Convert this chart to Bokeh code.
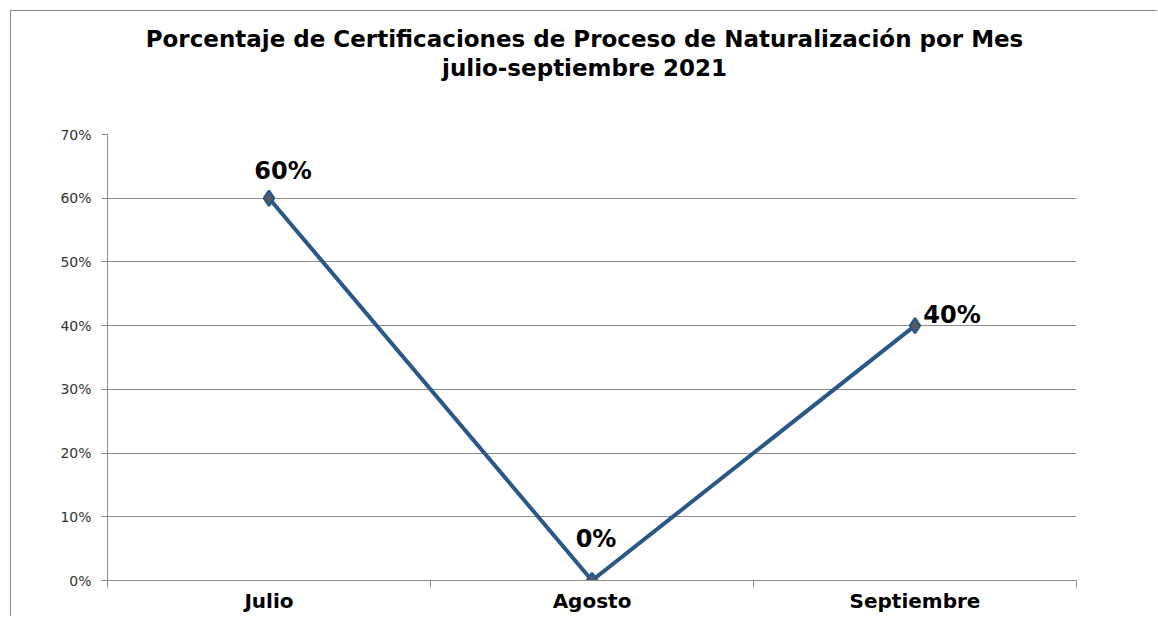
from bokeh.plotting import figure
from bokeh.layouts import column
from bokeh.models import (ColumnDataSource, Range1d, FixedTicker,
                          NumeralTickFormatter, LabelSet, Div)
from bokeh.core.properties import value
from bokeh.embed import file_html
from bokeh.resources import INLINE

# ---- data ----
meses = ["Julio", "Agosto", "Septiembre"]
porcentajes = [0.60, 0.00, 0.40]
etiquetas = ["60%", "0%", "40%"]
y_ticks = [0.0, 0.1, 0.2, 0.3, 0.4, 0.5, 0.6, 0.7]
titulo = "Porcentaje de Certificaciones de Proceso de Naturalización por Mes"
subtitulo = "julio-septiembre 2021"

# ---- styles (label offsets in screen pixels) ----
label_dx = [14, 4, 37]
label_dy = [19, 34, 3]

FONT = "DejaVu Sans"
GRAY = "#8c8c8c"
BLUE = "#2a5886"
BORDER = "1px solid " + GRAY

n = len(meses)
pos = [i + 0.5 for i in range(n)]          # category centres
bordes = list(range(n + 1))                # category boundaries

# ---- title block ----
DIV_H = 100
title_html = (
    '<div style="display:block; width:1140px; text-align:center; '
    'font-family:\'DejaVu Sans\'; font-weight:bold; font-size:23px; '
    'line-height:29px; color:black; padding-top:14px; padding-left:7px;">'
    f'{titulo}<br>{subtitulo}</div>'
)
div = Div(text=title_html, width=1147, height=DIV_H, margin=(10, 0, 0, 10),
          styles={"border-top": BORDER, "border-left": BORDER})

# ---- figure ----
FIG_H = 617 - 11 - DIV_H
p = figure(width=1147, height=FIG_H, title=None,
           x_range=Range1d(0, n), y_range=Range1d(0, y_ticks[-1]),
           output_backend="svg", toolbar_location=None,
           margin=(0, 0, 0, 10), styles={"border-left": BORDER},
           min_border_left=96, min_border_right=82, min_border_top=24,
           min_border_bottom=36)

p.outline_line_color = None
p.background_fill_color = "white"
p.border_fill_color = "white"

# grid
p.xgrid.grid_line_color = None
p.ygrid.grid_line_color = GRAY
p.ygrid.grid_line_width = 1
p.ygrid.ticker = FixedTicker(ticks=y_ticks)

# y axis
ya = p.yaxis[0]
ya.ticker = FixedTicker(ticks=y_ticks)
ya.formatter = NumeralTickFormatter(format="0%")
ya.axis_line_color = GRAY
ya.major_tick_line_color = GRAY
ya.minor_tick_line_color = None
ya.major_tick_in = 0
ya.major_tick_out = 6
ya.major_label_standoff = 10
ya.major_label_text_font = FONT
ya.major_label_text_font_size = "14px"
ya.major_label_text_color = "#333333"

# x axis: labels at category centres, tick marks at category boundaries
xa = p.xaxis[0]
xa.ticker = FixedTicker(ticks=pos, minor_ticks=bordes)
xa.major_label_overrides = {x: m for x, m in zip(pos, meses)}
xa.axis_line_color = GRAY
xa.major_tick_line_color = None
xa.major_tick_in = 0
xa.major_tick_out = 0
xa.minor_tick_line_color = GRAY
xa.minor_tick_in = 0
xa.minor_tick_out = 7
xa.major_label_standoff = 1
xa.major_label_text_font = FONT
xa.major_label_text_font_style = "bold"
xa.major_label_text_font_size = "20px"
xa.major_label_text_color = "black"

src = ColumnDataSource(dict(x=pos, mes=meses, valor=porcentajes,
                            etiqueta=etiquetas, dx=label_dx, dy=label_dy))

p.line(x="x", y="valor", source=src, line_color=BLUE, line_width=4)
p.scatter(x="x", y="valor", source=src, marker="diamond", size=15,
          fill_color="#5a5a5a", line_color=BLUE, line_width=2.5)

# data labels
p.add_layout(LabelSet(x="x", y="valor", text="etiqueta", source=src,
                      x_offset="dx", y_offset="dy",
                      text_align="center", text_baseline="alphabetic",
                      text_font=value(FONT), text_font_style="bold",
                      text_font_size="24px", text_color="black"))

layout = column(div, p, spacing=0)
open("out.html", "w").write(file_html(layout, INLINE))
